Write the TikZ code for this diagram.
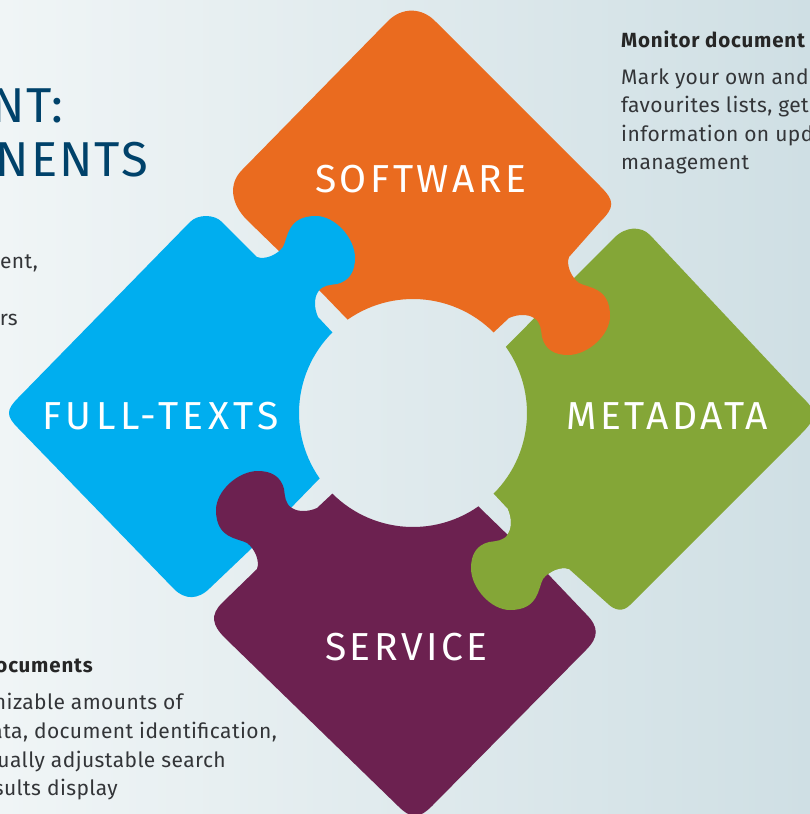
\documentclass[tikz,border=0pt]{standalone}
\usepackage{fontspec}
\setmainfont{Fira Sans}
\newfontfamily\labelfont[LetterSpace=9]{Fira Sans}
\newfontfamily\widelabelfont[LetterSpace=11.5]{Fira Sans}
\newfontfamily\titlefont[LetterSpace=4]{Fira Sans}
\newfontfamily\bodyfont[LetterSpace=2]{Fira Sans}
\newfontfamily\boldbody[LetterSpace=4]{Fira Sans Bold}
\definecolor{cOrange}{HTML}{EA6B1F}
\definecolor{cBlue}{HTML}{00AEEF}
\definecolor{cGreen}{HTML}{84A637}
\definecolor{cPurple}{HTML}{6C2150}
\definecolor{cTitle}{HTML}{00426A}
\definecolor{cBody}{HTML}{333538}
\definecolor{bgL}{HTML}{F0F5F6}
\definecolor{bgM}{HTML}{E3EAEC}
\definecolor{bgR}{HTML}{CFDFE4}
\tikzset{
  ring/.style={domain=#1,samples=30,variable=\t},
  puzzlelabel/.style={text=white,inner sep=0pt,anchor=base west,font={\fontsize{39}{39}\labelfont}},
  titletext/.style={text=cTitle,inner sep=0pt,anchor=base east,font={\fontsize{49}{49}\titlefont}},
  bodytext/.style={text=cBody,inner sep=0pt,font={\fontsize{21}{21}\bodyfont}},
  headtext/.style={text=black!85,inner sep=0pt,font={\fontsize{20.5}{20.5}\boldbody}}
}
\begin{document}
\begin{tikzpicture}[x=1pt,y=-1pt]
\useasboundingbox (0,0) rectangle (810,814);
\shade[left color=bgL,middle color=bgM,right color=bgR] (0,0) rectangle (810,814);

% green
\fill[cGreen] plot[ring=-35.5:45] ({413+114*cos(\t)},{413+114*sin(\t)})
  -- (508,509)
  .. controls (512,518) and (512,528) .. (508,534)
  .. controls (504,541) and (496,541) .. (489,542)
  .. controls (477,545) and (471,554) .. (471,568)
  .. controls (471,588) and (491,610) .. (510,610)
  .. controls (539,610) and (538,588) .. (543,579)
  .. controls (549,571) and (561,566) .. (569,569)
  -- (607,603)
  .. controls (615,611) and (623,612) .. (630,605)
  -- (800,435)
  .. controls (818,417) and (818,412) .. (800,395)
  -- (650,235)
  .. controls (641,226) and (626,226) .. (614,238)
  -- cycle;

% orange
\fill[cOrange] plot[ring=235:315] ({413+114*cos(\t)},{413+114*sin(\t)})
  -- (509,318)
  .. controls (518,314) and (528,314) .. (534,318)
  .. controls (541,322) and (541,330) .. (542,337)
  .. controls (545,349) and (554,355) .. (568,355)
  .. controls (588,355) and (610,335) .. (610,316)
  .. controls (610,287) and (588,288) .. (579,283)
  .. controls (571,277) and (566,265) .. (569,257)
  -- (600,222)
  .. controls (615,207) and (615,201) .. (600,186)
  -- (436,22)
  .. controls (422,7) and (402,7) .. (388,21)
  -- (242,170)
  .. controls (228,184) and (231,204) .. (247,220)
  -- (320,291) -- cycle;

% blue
\fill[cBlue] plot[ring=145:225] ({413+114*cos(\t)},{413+114*sin(\t)})
  -- (318,317)
  .. controls (314,308) and (314,298) .. (318,292)
  .. controls (322,285) and (330,285) .. (337,284)
  .. controls (349,281) and (355,272) .. (355,258)
  .. controls (355,238) and (335,216) .. (316,216)
  .. controls (287,216) and (288,238) .. (283,247)
  .. controls (277,255) and (265,260) .. (257,257)
  -- (222,222)
  .. controls (214,214) and (198,214) .. (190,222)
  -- (18,398)
  .. controls (6,410) and (6,416) .. (18,428)
  -- (174,589)
  .. controls (185,600) and (198,600) .. (210,588)
  -- (252,548) -- cycle;

% purple
\fill[cPurple] plot[ring=55:135] ({413+114*cos(\t)},{413+114*sin(\t)})
  -- (317,508)
  .. controls (308,512) and (298,512) .. (292,508)
  .. controls (285,504) and (285,496) .. (284,489)
  .. controls (281,477) and (272,471) .. (258,471)
  .. controls (238,471) and (216,491) .. (216,510)
  .. controls (216,539) and (238,538) .. (247,543)
  .. controls (255,549) and (260,561) .. (257,569)
  -- (222,603)
  .. controls (210,615) and (212,625) .. (225,638)
  -- (398,806)
  .. controls (411,819) and (419,819) .. (432,806)
  -- (586,650)
  .. controls (599,637) and (599,627) .. (586,614)
  -- (547,573) -- cycle;

% green tab, lying over the purple piece
\fill[cGreen] (508,509)
  .. controls (512,518) and (512,528) .. (508,534)
  .. controls (504,541) and (496,541) .. (489,542)
  .. controls (477,545) and (471,554) .. (471,568)
  .. controls (471,588) and (491,610) .. (510,610)
  .. controls (539,610) and (538,588) .. (543,579)
  .. controls (549,571) and (561,566) .. (569,569)
  -- (575,530) -- cycle;

\node[puzzlelabel] (software) at (315,192) {SOFTWARE};
\node[puzzlelabel,font={\fontsize{39}{39}\widelabelfont}] (fulltexts) at (42,429) {FULL-TEXTS};
\node[puzzlelabel] (metadata) at (566,429) {METADATA};
\node[puzzlelabel] (service) at (325,660) {SERVICE};

\node[titletext] (title1) at (64,122) {NT:};
\node[titletext] (title2) at (148,176) {NENTS};

\node[bodytext,anchor=base east] (left1) at (38,268) {ent,};
\node[bodytext,anchor=base east] (left2) at (18,325) {rs};

\node[headtext,anchor=base west] (righthead) at (621,47) {Monitor document};
\node[bodytext,anchor=base west] (right1) at (621,84) {Mark your own and};
\node[bodytext,anchor=base west] (right2) at (621,112) {favourites lists, get};
\node[bodytext,anchor=base west] (right3) at (621,141) {information on upd};
\node[bodytext,anchor=base west] (right4) at (621,169) {management};

\node[headtext,anchor=base east] (bottomhead) at (93,672) {ocuments};
\node[bodytext,anchor=base east] (bottom1) at (183,709) {nizable amounts of};
\node[bodytext,anchor=base east] (bottom2) at (277,738) {ata, document identification,};
\node[bodytext,anchor=base east] (bottom3) at (226,767) {ually adjustable search};
\node[bodytext,anchor=base east] (bottom4) at (118,795) {sults display};
\end{tikzpicture}
\end{document}
